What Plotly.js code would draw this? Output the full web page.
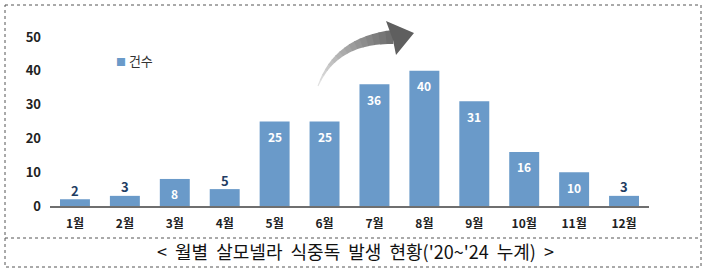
<!DOCTYPE html>
<html><head><meta charset="utf-8">
<script src="https://cdn.plot.ly/plotly-3.0.1.min.js"></script>
<style>body{margin:0;background:#fff}#c{width:710px;height:272px}</style>
</head><body><div id="c"></div>
<script>
var months = ['1월','2월','3월','4월','5월','6월','7월','8월','9월','10월','11월','12월'];
var counts = [2,3,8,5,25,25,36,40,31,16,10,3];
var insideFlags = [false,false,true,false,true,true,true,true,true,true,true,false];
var seriesName = '건수';
var caption = "< 월별 살모넬라 식중독 발생 현황('20~'24 누계) >";

var FONT = 'Noto Sans CJK KR, Noto Sans, sans-serif';
var BAR = '#6A9AC9';
// plot area in pixels
var L = 50, R = 649, T = 37, B = 206;
function px(x){return (x - L)/(R - L);}
function py(y){return (B - y)/(B - T);}

var annotations = [];
for (var i = 0; i < months.length; i++) {
  var inside = insideFlags[i];
  annotations.push({
    x: months[i], y: counts[i], xref:'x', yref:'y',
    text: String(counts[i]), showarrow:false,
    yshift: inside ? -15 : 9,
    font: {family: FONT, size: inside ? 12 : 13, weight: 'bold', color: inside ? '#ffffff' : '#1F3D63'}
  });
}
annotations.push({
  xref:'paper', yref:'paper', x: px(114), y: py(60), xanchor:'left', yanchor:'middle',
  text: '<span style="color:'+BAR+';font-size:10px">■</span> ' + seriesName, showarrow:false,
  font:{family:FONT, size:13, color:'#333'}
});
annotations.push({
  xref:'paper', yref:'paper', x: px(355), y: py(251), xanchor:'center', yanchor:'middle',
  text: caption.replace(/ /g, '  ').replace("(  '", "('"), showarrow:false, font:{family:FONT, size:18, color:'#111'}
});

var shapes = [];
// dotted frame
shapes.push({type:'rect', xref:'paper', yref:'paper', x0:px(5), x1:px(701), y0:py(5), y1:py(267),
  line:{color:'#555', width:1, dash:'dot'}, fillcolor:'rgba(0,0,0,0)'});
shapes.push({type:'line', xref:'paper', yref:'paper', x0:px(5), x1:px(701), y0:py(238), y1:py(238),
  line:{color:'#555', width:1, dash:'dot'}});

// curved gradient arrow (decoration)
function bez(t, a, b, c){ var u=1-t; return u*u*a + 2*u*t*b + t*t*c; }
var P0=[318,86], P1=[336,40], P2=[393,37];
var N = 16;
function pt(t){ return [bez(t,P0[0],P1[0],P2[0]), bez(t,P0[1],P1[1],P2[1])]; }
function norm(t){
  var dx = 2*(1-t)*(P1[0]-P0[0]) + 2*t*(P2[0]-P1[0]);
  var dy = 2*(1-t)*(P1[1]-P0[1]) + 2*t*(P2[1]-P1[1]);
  var l = Math.sqrt(dx*dx+dy*dy); return [-dy/l, dx/l];
}
function wid(t){ return 1 + 13*Math.pow(t,1.2); }
for (var k = 0; k < N; k++) {
  var t0 = k/N, t1 = Math.min((k+1)/N + 0.01, 1);
  var a = pt(t0), b = pt(t1), n0 = norm(t0), n1 = norm(t1), w0 = wid(t0)/2, w1 = wid(t1)/2;
  var pts = [[a[0]+n0[0]*w0, a[1]+n0[1]*w0],[b[0]+n1[0]*w1, b[1]+n1[1]*w1],
             [b[0]-n1[0]*w1, b[1]-n1[1]*w1],[a[0]-n0[0]*w0, a[1]-n0[1]*w0]];
  var path = 'M' + pts.map(function(p){return px(p[0])+','+py(p[1]);}).join(' L') + ' Z';
  var g = Math.round(225 - 115*(k/(N-1)));
  shapes.push({type:'path', xref:'paper', yref:'paper', path:path,
    fillcolor:'rgb('+g+','+g+','+g+')', line:{width:0}});
}
var head = [[386,21],[414,33],[396,55],[393,40]];
shapes.push({type:'path', xref:'paper', yref:'paper',
  path:'M' + head.map(function(p){return px(p[0])+','+py(p[1]);}).join(' L') + ' Z',
  fillcolor:'rgb(95,95,95)', line:{width:0}});

var trace = {
  type:'bar', x: months, y: counts, name: seriesName,
  marker:{color: BAR},
  hoverinfo:'none', showlegend:false
};

var layout = {
  width:710, height:272,
  margin:{l:L, r:710-R, t:T, b:272-B},
  paper_bgcolor:'#fff', plot_bgcolor:'#fff',
  bargap:0.4,
  xaxis:{type:'category', showline:true, linecolor:'#6f6f6f', linewidth:2, ticks:'', showgrid:false,
    zeroline:false, ticklabelstandoff:6,
    tickfont:{family:FONT, size:12, weight:'bold', color:'#222'}},
  yaxis:{range:[0,50], tickvals:[0,10,20,30,40,50], showline:false, showgrid:false, zeroline:false,
    ticks:'', ticklabelstandoff:8,
    tickfont:{family:FONT, size:13, weight:'bold', color:'#222'}},
  annotations: annotations,
  shapes: shapes,
  showlegend:false
};
Plotly.newPlot('c', [trace], layout, {displayModeBar:false, staticPlot:true});
</script></body></html>
